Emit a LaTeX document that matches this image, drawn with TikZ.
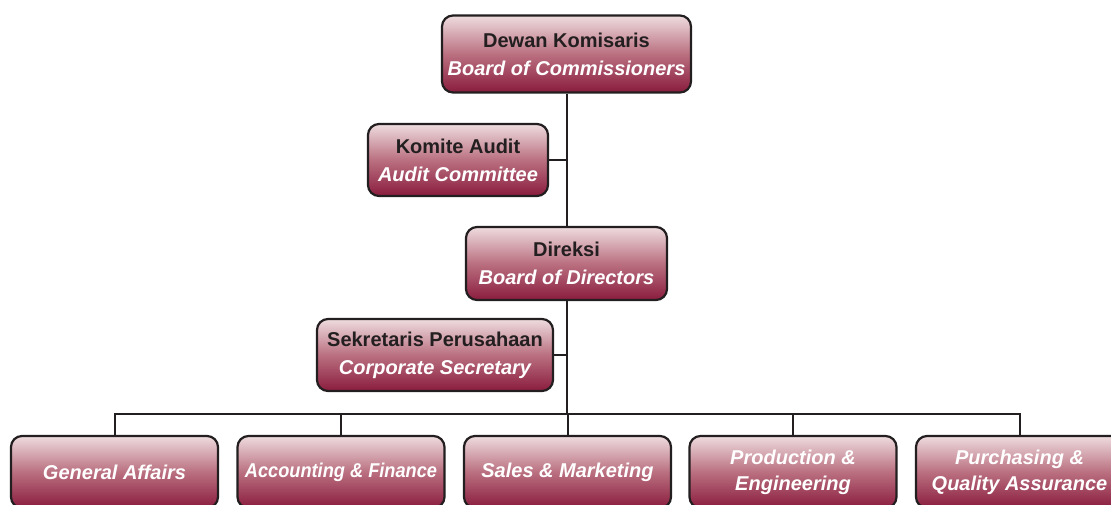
\documentclass[tikz,border=0pt]{standalone}
\usepackage{fontspec}
\setmainfont{Liberation Sans}
\usepackage{graphicx}
\definecolor{boxtop}{RGB}{238,220,223}
\definecolor{boxmid}{RGB}{186,112,128}
\definecolor{boxbot}{RGB}{138,28,62}
\definecolor{ink}{RGB}{35,31,32}
\begin{document}
\begin{tikzpicture}[x=1pt,y=-1pt,
  orgbox/.style={draw=ink, line width=2.2pt, rounded corners=11pt,
    top color=boxtop, bottom color=boxbot, middle color=boxmid,
    align=center, inner sep=0pt, font=\fontsize{20}{28}\selectfont\bfseries},
  link/.style={draw=ink, line width=2pt},
  en/.style={},
]
\useasboundingbox (0,0) rectangle (1111,504);
\newcommand{\idn}[1]{\textcolor{ink}{#1}}
\newcommand{\eng}[1]{\textcolor{white}{\itshape #1}}

% upper levels
\node[orgbox, minimum width=249pt, minimum height=77pt] (dk) at (566.5,54)
  {\idn{Dewan Komisaris}\\\eng{Board of Commissioners}};
\node[orgbox, minimum width=180pt, minimum height=72pt] (ka) at (458,160)
  {\idn{Komite Audit}\\\eng{Audit Committee}};
\node[orgbox, minimum width=201pt, minimum height=73pt] (dir) at (566.5,263.5)
  {\idn{Direksi}\\\eng{Board of Directors}};
\node[orgbox, minimum width=236pt, minimum height=72pt] (sek) at (435,355)
  {\idn{Sekretaris Perusahaan}\\\eng{Corporate Secretary}};

% departments
\node[orgbox, minimum width=207pt, minimum height=72pt] (ga) at (114.5,472)
  {\eng{General Affairs}};
\node[orgbox, minimum width=207pt, minimum height=72pt] (af) at (341,472)
  {\eng{\scalebox{0.91}[1]{Accounting \& Finance}}};
\node[orgbox, minimum width=207pt, minimum height=72pt] (sm) at (567.5,472)
  {\eng{Sales \& Marketing}};
\node[orgbox, minimum width=207pt, minimum height=72pt,
  font=\fontsize{20}{26}\selectfont\bfseries] (pe) at (793,472)
  {\eng{Production \&}\\\eng{Engineering}};
\node[orgbox, minimum width=207pt, minimum height=72pt,
  font=\fontsize{20}{26}\selectfont\bfseries] (pq) at (1019.5,472)
  {\eng{Purchasing \&}\\\eng{Quality Assurance}};

% connectors
\coordinate (bus) at (0,414);
\draw[link] (dk.south) -- (dir.north);
\draw[link] (ka.east) -- (ka.east -| dk.south);
\draw[link] (dir.south) -- (dir.south |- bus);
\draw[link] (sek.east) -- (sek.east -| dir.south);
\draw[link] (ga.north) -- (ga.north |- bus) -- (pq.north |- bus) -- (pq.north);
\foreach \d in {af,sm,pe} \draw[link] (\d.north) -- (\d.north |- bus);
\end{tikzpicture}
\end{document}
